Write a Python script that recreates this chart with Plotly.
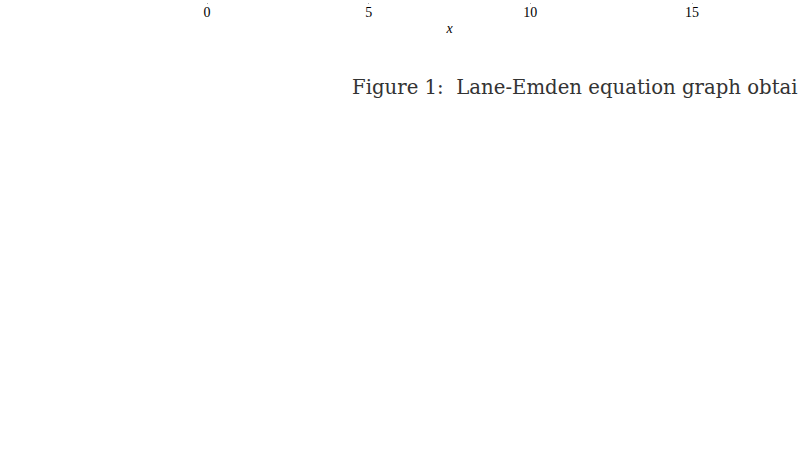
import plotly.graph_objects as go

# data
tick_values = [0, 5, 10, 15]
tick_labels = ["0", "5", "10", "15"]
x_range = [0, 15]
x_title = "x"
caption = "Figure 1:&nbsp; Lane-Emden equation graph obtai"

fig = go.Figure()
fig.add_trace(go.Scatter(x=x_range, y=[0, 0], mode="lines",
                         line=dict(color="rgba(0,0,0,0)", width=0),
                         hoverinfo="skip", showlegend=False))

fig.update_layout(
    width=800, height=450,
    margin=dict(l=207, r=108, t=0, b=449, pad=0),
    paper_bgcolor="white", plot_bgcolor="white",
    showlegend=False,
    xaxis=dict(range=x_range, tickvals=tick_values, ticktext=tick_labels,
               ticks="outside", ticklen=1, tickwidth=1, tickcolor="#aaa",
               ticklabelstandoff=-4,
               showline=False, showgrid=False, zeroline=False,
               tickfont=dict(family="Liberation Serif", size=14, color="black"),
               title=dict(text="<i>" + x_title + "</i>", standoff=4,
                          font=dict(family="Liberation Serif", size=14, color="black"))),
    yaxis=dict(range=[0, 1], visible=False, fixedrange=True),
    annotations=[dict(text=caption, xref="paper", yref="paper", x=0, y=0,
                      xanchor="left", yanchor="middle", xshift=351 - 207 - 1, yshift=-85,
                      showarrow=False,
                      font=dict(family="DejaVu Serif", size=19.7, color="#333"))],
)

fig.write_html("out.html", config={"displayModeBar": False},
               post_script="document.body.style.margin='0px';")
